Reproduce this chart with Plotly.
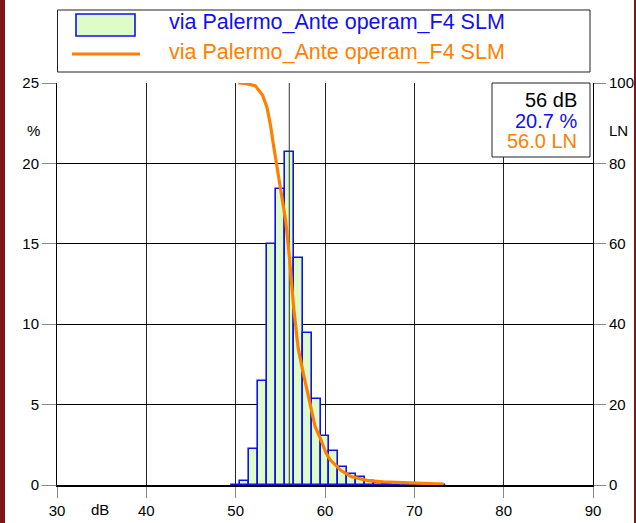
import plotly.graph_objects as go

# ---- data ----
db_bins = [50, 51, 52, 53, 54, 55, 56, 57, 58, 59, 60, 61, 62, 63, 64, 65, 66, 67, 68, 69, 70, 71, 72, 73]
pct = [0.03, 0.27, 2.24, 6.47, 15.0, 18.39, 20.7, 14.14, 9.47, 5.35, 3.07, 2.13,
       1.10, 0.66, 0.48, 0.27, 0.10, 0.05, 0.03, 0.02, 0.02, 0.01, 0.01, 0.01]

ln_db = [50.3, 51.0, 52.2, 53.0, 53.5, 53.9, 54.2, 54.6, 55.0, 55.6, 56.0, 56.5, 57.0,
         57.5, 58.2, 58.9, 59.5, 60.1, 60.6, 61.2, 61.8, 62.9, 64.0, 64.8, 66.5, 68.5, 71.0, 73.3]
ln_val = [100, 99.9, 99.3, 97, 94, 89.5, 85, 80, 74, 65.7, 57, 44, 34,
          28.5, 21.5, 14.5, 11.5, 8.0, 6.2, 4.8, 3.6, 2.1, 1.5, 1.1, 0.8, 0.6, 0.4, 0.2]

series_name = "via Palermo_Ante operam_F4 SLM"
cursor_db = 56
cursor_pct = 20.7
cursor_ln = 56.0

x_ticks = [30, 40, 50, 60, 70, 80, 90]
y_ticks = [0, 5, 10, 15, 20, 25]
y2_ticks = [0, 20, 40, 60, 80, 100]

BLUE = "#1010F0"
ORANGE = "#FF8000"
FILL = "#DDFCC8"
FONT = "Liberation Sans, Arial, sans-serif"

# plot-area geometry in pixels (for paper conversions of decorations)
W, H = 636, 523
L, R, T, B = 57, 43, 83, 38
PW, PH = W - L - R, H - T - B

def px(x):
    return (x - L) / PW

def py(y):
    return (H - B - y) / PH

fig = go.Figure()

fig.add_trace(go.Bar(
    x=db_bins, y=pct, width=1,
    marker=dict(color=FILL, line=dict(color=BLUE, width=1.6)),
    hoverinfo="skip", showlegend=False,
))

fig.add_trace(go.Scatter(
    x=[cursor_db, cursor_db], y=[0, 25], mode="lines",
    line=dict(color="#333333", width=1), hoverinfo="skip", showlegend=False,
))

fig.add_trace(go.Scatter(
    x=ln_db, y=ln_val, mode="lines", yaxis="y2",
    line=dict(color=ORANGE, width=3.2), hoverinfo="skip", showlegend=False,
))

axis_font = dict(family=FONT, size=15, color="black")

fig.update_layout(
    width=W, height=H,
    margin=dict(l=L, r=R, t=T, b=B, pad=0, autoexpand=False),
    paper_bgcolor="white", plot_bgcolor="white",
    bargap=0,
    font=dict(family=FONT),
    xaxis=dict(
        range=[30, 90], tickvals=x_ticks, ticktext=[str(v) for v in x_ticks],
        showgrid=True, gridcolor="#222222", gridwidth=1,
        ticks="outside", ticklen=11, tickcolor="#888888", tickwidth=1,
        showline=True, linecolor="black", linewidth=2,
        zeroline=False, tickfont=axis_font,
    ),
    yaxis=dict(
        range=[0, 25], tickvals=y_ticks,
        showgrid=True, gridcolor="black", gridwidth=1,
        ticks="outside", ticklen=14, tickcolor="#888888", tickwidth=1,
        showline=True, linecolor="black", linewidth=1,
        zeroline=False, tickfont=axis_font,
    ),
    yaxis2=dict(
        range=[0, 100], tickvals=y2_ticks, overlaying="y", side="right",
        showgrid=False,
        ticks="outside", ticklen=12, tickcolor="#888888", tickwidth=1,
        showline=True, linecolor="black", linewidth=1,
        zeroline=False, tickfont=axis_font,
    ),
)

shapes = []
# page border stripes
shapes.append(dict(type="rect", xref="paper", yref="paper",
                   x0=px(0), x1=px(5), y0=py(H + 2), y1=py(-2),
                   fillcolor="#801515", line=dict(width=0), layer="above"))
shapes.append(dict(type="rect", xref="paper", yref="paper",
                   x0=px(634), x1=px(637), y0=py(H + 2), y1=py(-2),
                   fillcolor="#801515", line=dict(width=0), layer="above"))
# legend box
shapes.append(dict(type="rect", xref="paper", yref="paper",
                   x0=px(57.5), x1=px(590), y0=py(72), y1=py(10),
                   fillcolor="white", line=dict(color="#222222", width=1)))
shapes.append(dict(type="rect", xref="paper", yref="paper",
                   x0=px(76), x1=px(135), y0=py(36), y1=py(14),
                   fillcolor=FILL, line=dict(color=BLUE, width=1.6)))
shapes.append(dict(type="line", xref="paper", yref="paper",
                   x0=px(72), x1=px(140), y0=py(54), y1=py(54),
                   line=dict(color=ORANGE, width=3)))
# info box
shapes.append(dict(type="rect", xref="paper", yref="paper",
                   x0=px(492), x1=px(590), y0=py(157), y1=py(83),
                   fillcolor="white", line=dict(color="#222222", width=1), layer="above"))
fig.update_layout(shapes=shapes)

ann = []
def text(x, y, s, color="black", size=15, xanchor="center"):
    ann.append(dict(x=px(x), y=py(y), xref="paper", yref="paper", text=s,
                    showarrow=False, xanchor=xanchor, yanchor="middle",
                    font=dict(family=FONT, size=size, color=color)))

text(167, 22, series_name, BLUE, 21.5, "left")
text(167, 52, series_name, ORANGE, 21.5, "left")
text(579, 100, f"{cursor_db} dB", "black", 20, "right")
text(579, 121, f"{cursor_pct:.1f} %", BLUE, 20, "right")
text(579, 141, f"{cursor_ln:.1f} LN", ORANGE, 20, "right")
text(33, 130, "%", "black", 15)
text(618, 130, "LN", "black", 15)
text(100, 509, "dB", "black", 15)
fig.update_layout(annotations=ann)

fig.write_html(
    "out.html",
    config={"displayModeBar": False},
    post_script="document.body.style.margin='0px';document.body.style.padding='0px';",
)
